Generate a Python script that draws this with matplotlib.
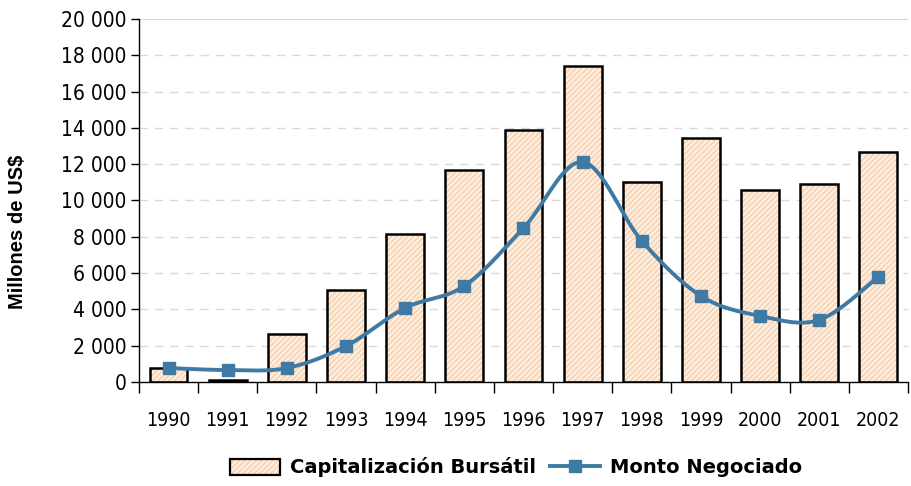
import numpy as np
import matplotlib.pyplot as plt
from matplotlib.ticker import FuncFormatter
from matplotlib.patches import Patch
from matplotlib.lines import Line2D
from matplotlib.legend_handler import HandlerTuple

# Data
years = ['1990', '1991', '1992', '1993', '1994', '1995', '1996',
         '1997', '1998', '1999', '2000', '2001', '2002']
capitalizacion = [770, 100, 2640, 5070, 8150, 11680, 13880,
                  17400, 11020, 13440, 10580, 10900, 12670]
monto = [770, 660, 770, 1980, 4080, 5290, 8480,
         12120, 7770, 4740, 3640, 3420, 5790]

plt.rcParams['font.family'] = ['DejaVu Sans']
plt.rcParams['font.stretch'] = 'condensed'

BAR_FACE = '#fdeedf'
HATCH = '#f6cfae'
LINE = '#3e7aa3'


def smooth(xs, ys, n=30):
    # Excel-style smoothed line (Bezier through the data points)
    xs = np.asarray(xs, float)
    ys = np.asarray(ys, float)
    px = np.concatenate([[xs[0]], xs, [xs[-1]]])
    py = np.concatenate([[ys[0]], ys, [ys[-1]]])
    out_x, out_y = [], []
    t = np.linspace(0, 1, n)
    for i in range(1, len(px) - 2):
        p0, p1, p2, p3 = [np.array([px[j], py[j]]) for j in range(i - 1, i + 3)]
        c1 = p1 + (p2 - p0) / 6
        c2 = p2 - (p3 - p1) / 6
        b = ((1 - t) ** 3)[:, None] * p1 + (3 * (1 - t) ** 2 * t)[:, None] * c1 \
            + (3 * (1 - t) * t ** 2)[:, None] * c2 + (t ** 3)[:, None] * p2
        out_x.extend(b[:, 0])
        out_y.extend(b[:, 1])
    return out_x, out_y


fig = plt.figure(figsize=(9.12, 4.86), dpi=100)
ax = fig.add_axes([0.1524, 0.214, 0.8432, 0.747])

x = np.arange(len(years))
ax.bar(x, capitalizacion, width=0.64, color=BAR_FACE, hatch='//////',
       edgecolor=HATCH, linewidth=0, zorder=2)
ax.bar(x, capitalizacion, width=0.64, fill=False, edgecolor='black',
       linewidth=1.8, zorder=3)

sx, sy = smooth(x, monto)
ax.plot(sx, sy, color=LINE, lw=2.8, zorder=4)
ax.plot(x, monto, ls='none', marker='s', ms=8.5, color=LINE, zorder=5)

ax.set_xlim(-0.5, len(years) - 0.5)
ax.set_ylim(0, 20000)
ax.set_yticks(np.arange(0, 20001, 2000))
ax.yaxis.set_major_formatter(FuncFormatter(lambda v, p: f'{int(v):,}'.replace(',', ' ')))
ax.set_xticks(x)
ax.set_xticklabels(years)
ax.set_xticks(np.arange(-0.5, len(years), 1), minor=True)
ax.tick_params(axis='x', which='major', length=0, pad=21, labelsize=14)
ax.tick_params(axis='x', which='minor', length=8, width=1)
ax.tick_params(axis='y', length=6, width=1, labelsize=15, pad=3)

for v in range(2000, 20000, 2000):
    ax.axhline(v, color='#d9d9d9', lw=1, ls=(0, (6, 5)), zorder=1)
ax.axhline(20000, color='#d0d0d0', lw=1.2, zorder=1)

for s in ['top', 'right']:
    ax.spines[s].set_visible(False)
ax.spines['left'].set_linewidth(1)
ax.spines['bottom'].set_linewidth(1)

ax.set_ylabel('Millones de US$', fontsize=14.5, fontweight='bold',
              family='Liberation Sans', fontstretch='normal')
ax.yaxis.set_label_coords(-0.145, 0.413)

bar_handle = (Patch(facecolor=BAR_FACE, edgecolor=HATCH, hatch='//////', linewidth=0),
              Patch(fill=False, edgecolor='black', linewidth=1.6))
line_handle = Line2D([], [], color=LINE, lw=2.8, marker='s', ms=8)
ax.legend([bar_handle, line_handle], ['Capitalización Bursátil', 'Monto Negociado'],
          handler_map={tuple: HandlerTuple(ndivide=1, pad=0)},
          loc='center', bbox_to_anchor=(0.49, -0.235), ncol=2, frameon=False,
          prop={'family': 'DejaVu Sans', 'weight': 'bold', 'size': 14, 'stretch': 'normal'},
          handlelength=2.6, handleheight=0.9, columnspacing=0.7, handletextpad=0.5)

fig.savefig('out.png', dpi=100)
